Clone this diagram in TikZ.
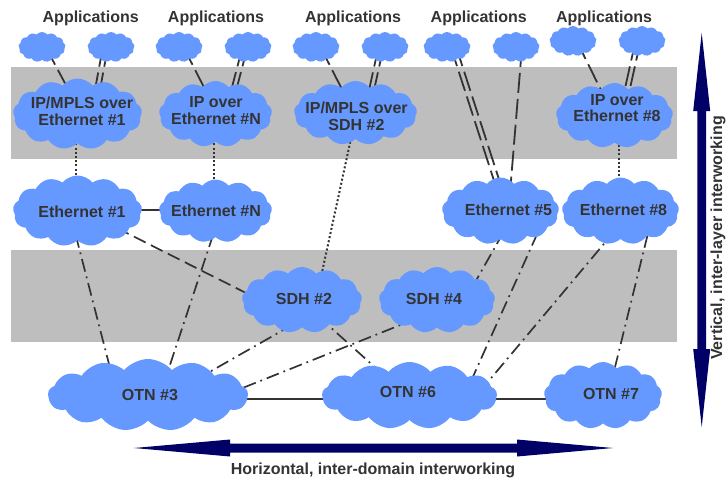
\documentclass[tikz,border=0pt]{standalone}
\usepackage{fontspec}
\setmainfont{Liberation Sans}
\usetikzlibrary{shapes.symbols,backgrounds}
\definecolor{cloudblue}{HTML}{6699FF}
\definecolor{bandgray}{HTML}{BEBEBE}
\definecolor{inkgray}{HTML}{333333}
\definecolor{arrownavy}{HTML}{000066}

\begin{document}
\begin{tikzpicture}
[x=1pt,y=-1pt,
tagtext/.style={text=inkgray,font=\fontsize{16}{16.8}\selectfont\bfseries,align=center,inner sep=0pt},
cloudbox/.style={cloud,cloud puffs=13,cloud puff arc=100,cloud ignores aspect,fill=cloudblue,inner sep=0pt},
appcloud/.style={cloudbox,minimum width=47pt,minimum height=30pt},
bigcloud/.style={cloudbox,minimum width=129pt,minimum height=71pt},
midcloud/.style={cloudbox,minimum width=117pt,minimum height=67pt},
wideline/.style={line width=1.8pt,draw=inkgray,dash pattern=on 20pt off 6pt},
dotline/.style={line width=2pt,draw=inkgray,dash pattern=on 2pt off 2.2pt},
dashdotline/.style={line width=1.7pt,draw=inkgray,dash pattern=on 13pt off 5pt on 1.8pt off 5pt},
dashline/.style={line width=1.7pt,draw=inkgray,dash pattern=on 13pt off 6pt},
solidline/.style={line width=2pt,draw=inkgray},
bigarrow/.style={fill=arrownavy},
]
\useasboundingbox (0,0) rectangle (727,482);

% top row
\node[tagtext] (apptext1) at (90.7,18) {Applications};
\node[tagtext] (apptext2) at (216,18) {Applications};
\node[tagtext] (apptext3) at (353,18) {Applications};
\node[tagtext] (apptext4) at (478.7,18) {Applications};
\node[tagtext] (apptext5) at (604,18) {Applications};

\node[appcloud] (app1) at (42,47) {};
\node[appcloud] (app2) at (111,47) {};
\node[appcloud] (app3) at (179,47) {};
\node[appcloud] (app4) at (248,47) {};
\node[appcloud] (app5) at (316,47) {};
\node[appcloud] (app6) at (385,47) {};
\node[appcloud] (app7) at (447,47) {};
\node[appcloud] (app8) at (516,47) {};
\node[appcloud] (app9) at (573,41) {};
\node[appcloud] (app10) at (642,41) {};

% service clouds
\node[bigcloud,label={[tagtext,xshift=4.5pt,yshift=2.5pt]center:IP/MPLS over\\Ethernet \#1}] (ipone) at (77.5,114) {};
\node[cloudbox,minimum width=113pt,minimum height=66pt,label={[tagtext,xshift=.5pt,yshift=3.5pt]center:IP over\\Ethernet \#N}] (ipn) at (215.5,114) {};
\node[cloudbox,minimum width=123pt,minimum height=64pt,label={[tagtext,xshift=1pt,yshift=-3.5pt]center:IP/MPLS over\\SDH \#2}] (ipsdh) at (355.5,113) {};
\node[midcloud,minimum height=65pt,label={[tagtext,xshift=2.5pt,yshift=7.5pt]center:IP over\\Ethernet \#8}] (ipeight) at (614.5,115.5) {};

% ethernet clouds
\node[bigcloud,label={[tagtext,xshift=4.5pt,yshift=-1pt]center:Ethernet \#1}] (ethone) at (77.5,211) {};
\node[cloudbox,minimum width=113pt,minimum height=63pt,label={[tagtext,xshift=.5pt,yshift=.5pt]center:Ethernet \#N}] (ethn) at (215.5,211) {};
\node[midcloud,label={[tagtext,xshift=8pt,yshift=1pt]center:Ethernet \#5}] (ethfive) at (500.5,211) {};
\node[midcloud,label={[tagtext,xshift=3pt,yshift=1pt]center:Ethernet \#8}] (etheight) at (620.5,211) {};

% sdh clouds
\node[cloudbox,minimum width=120pt,minimum height=66pt,label={[tagtext,xshift=2pt,yshift=1pt]center:SDH \#2}] (sdhtwo) at (302,300) {};
\node[cloudbox,minimum width=116pt,minimum height=66pt,label={[tagtext,xshift=-3pt,yshift=1pt]center:SDH \#4}] (sdhfour) at (437,300) {};

% otn clouds
\node[cloudbox,minimum width=200pt,minimum height=72pt,label={[tagtext,xshift=2pt]center:OTN \#3}] (otnthree) at (148,395) {};
\node[cloudbox,minimum width=175pt,minimum height=67pt,label={[tagtext,xshift=-1.5pt,yshift=3.5pt]center:OTN \#6}] (otnsix) at (409.5,395.5) {};
\node[cloudbox,minimum width=118pt,minimum height=67pt,label={[tagtext,xshift=8pt,yshift=1.5pt]center:OTN \#7}] (otnseven) at (603,395.5) {};

\begin{scope}[on background layer]
\fill[bandgray] (11,67) rectangle (677,159);
\fill[bandgray] (11,250) rectangle (677,342);

\draw[wideline] ([xshift=3.6pt]app1.center) -- ([xshift=4pt]ipone.center);
\draw[wideline,transform canvas={xshift=-2.5pt}] ([xshift=-5.6pt]app2.center) -- ([xshift=15.5pt]ipone.center);
\draw[wideline,transform canvas={xshift=2.5pt}] ([xshift=-5.6pt]app2.center) -- ([xshift=15.5pt]ipone.center);
\draw[wideline] ([xshift=4.5pt]app3.center) -- ([xshift=2pt]ipn.center);
\draw[wideline,transform canvas={xshift=-2.5pt}] ([xshift=-3pt]app4.center) -- ([xshift=12pt]ipn.center);
\draw[wideline,transform canvas={xshift=2.5pt}] ([xshift=-3pt]app4.center) -- ([xshift=12pt]ipn.center);
\draw[wideline] ([xshift=4.5pt]app5.center) -- ([xshift=-1.5pt]ipsdh.center);
\draw[wideline,transform canvas={xshift=-2.5pt}] ([xshift=-4pt]app6.center) -- ([xshift=11pt]ipsdh.center);
\draw[wideline,transform canvas={xshift=2.5pt}] ([xshift=-4pt]app6.center) -- ([xshift=11pt]ipsdh.center);
\draw[wideline,transform canvas={xshift=-2.7pt}] ([xshift=6.5pt]app7.center) -- ([xshift=6pt]ethfive.center);
\draw[wideline,transform canvas={xshift=2.7pt}] ([xshift=6.5pt]app7.center) -- ([xshift=6pt]ethfive.center);
\draw[wideline] ([xshift=6pt]app8.center) -- ([xshift=8pt]ethfive.center);
\draw[wideline] ([xshift=3.7pt]app9.center) -- ([xshift=-1pt]ipeight.center);
\draw[wideline,transform canvas={xshift=-2.5pt}] ([xshift=-4pt]app10.center) -- ([xshift=7pt]ipeight.center);
\draw[wideline,transform canvas={xshift=2.5pt}] ([xshift=-4pt]app10.center) -- ([xshift=7pt]ipeight.center);

\draw[dotline] ([xshift=-1.5pt]ipone.center) -- ([xshift=-1.5pt]ethone.center);
\draw[dotline] ([xshift=-1.5pt]ipn.center) -- ([xshift=-1.5pt]ethn.center);
\draw[dotline] ([xshift=4.5pt]ipeight.center) -- ([xshift=-1.5pt]etheight.center);
\draw[dotline] ([xshift=1pt]ipsdh.center) -- ([xshift=14pt]sdhtwo.center);

\draw[dashline] ([xshift=5.5pt]ethone.center) -- ([xshift=-42pt]sdhtwo.center);
\draw[dashdotline] ([xshift=-8pt]ethone.center) -- ([xshift=-31pt]otnthree.center);
\draw[dashdotline] ([xshift=5.5pt]ethn.center) -- ([xshift=12pt]otnthree.center);
\draw[dashdotline] ([xshift=34pt]sdhtwo.center) -- ([xshift=21pt]otnthree.center);
\draw[dashdotline] ([xshift=-2pt]sdhtwo.center) -- ([xshift=-3pt]otnsix.center);
\draw[dashdotline] ([xshift=26pt]sdhfour.center) -- ([xshift=77pt]otnthree.center);
\draw[dashdotline] ([xshift=15pt]ethfive.center) -- ([xshift=28pt]sdhfour.center);
\draw[dashdotline] ([xshift=47pt]ethfive.center) -- ([xshift=55pt]otnsix.center);
\draw[dashdotline] ([xshift=11pt]etheight.center) -- ([xshift=67pt]otnsix.center);
\draw[dashdotline] ([xshift=33pt]etheight.center) -- ([xshift=5pt]otnseven.center);

\draw[solidline] ([yshift=1pt]ethone.center) -- ([yshift=1pt]ethn.center);
\draw[solidline] ([yshift=-4pt]otnthree.center) -- ([yshift=-3.5pt]otnsix.center);
\draw[solidline] ([yshift=-3.5pt]otnsix.center) -- ([yshift=-3.5pt]otnseven.center);
\end{scope}

% the two big arrows
\fill[bigarrow] (701.7,33) -- (710.2,111) -- (706,111) -- (706,349) -- (710.2,349) -- (701.7,427)
  -- (693.2,349) -- (697.4,349) -- (697.4,111) -- (693.2,111) -- cycle;
\fill[bigarrow] (134,448) -- (230,439.5) -- (230,443.5) -- (517,443.5) -- (517,439.5) -- (613,448)
  -- (517,456.5) -- (517,452.5) -- (230,452.5) -- (230,456.5) -- cycle;

\node[tagtext,rotate=90] (verttext) at (718,238) {Vertical, inter-layer interworking};
\node[tagtext] (hortext) at (373,470) {Horizontal, inter-domain interworking};
\end{tikzpicture}
\end{document}
